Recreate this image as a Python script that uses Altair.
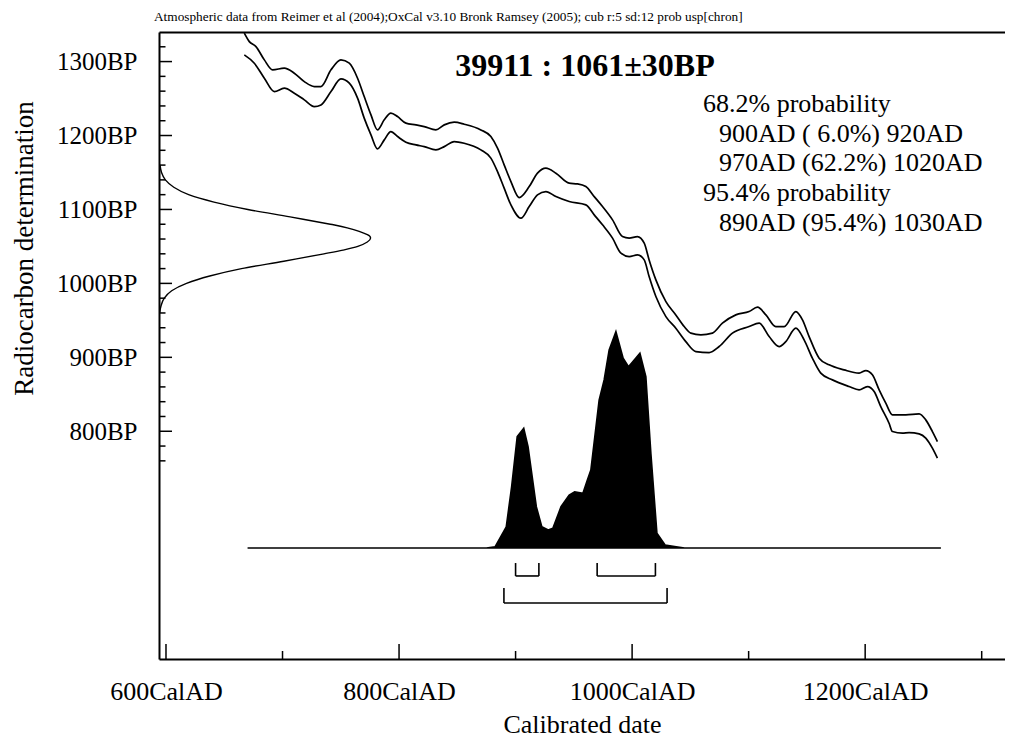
import altair as alt
import pandas as pd

FONT = "Liberation Serif"

# ---- calibration curve (1 sigma envelope) ----
upper_year = [667.2, 671.5, 677.2, 684.4, 691.5, 701.5, 710.1, 718.7, 727.3, 733.0, 741.6, 750.1, 757.3, 764.4,
              770.1, 775.9, 781.5, 787.3, 793.0, 798.7, 805.9, 814.5, 821.6, 831.6, 838.8, 847.3, 855.9, 870.2,
              878.8, 884.5, 890.2, 896.0, 903.1, 911.7, 918.8, 926.0, 934.6, 946.0, 953.1, 960.3, 967.5, 974.6,
              983.2, 991.7, 997.5, 1004.6, 1010.4, 1014.6, 1020.4, 1029.0, 1037.5, 1044.7, 1050.4, 1059.0, 1068.9,
              1077.5, 1089.0, 1100.4, 1107.6, 1114.8, 1123.3, 1130.5, 1140.5, 1146.2, 1151.9, 1160.5, 1169.1,
              1181.9, 1194.8, 1200.6, 1206.2, 1212.0, 1217.7, 1223.4, 1234.9, 1246.3, 1252.0, 1257.7, 1262.0]
upper_bp = [1338.4, 1327.0, 1320.3, 1302.3, 1288.8, 1291.1, 1284.3, 1272.9, 1266.2, 1266.2, 1288.8, 1302.3, 1297.8,
            1277.5, 1252.7, 1227.9, 1207.6, 1221.2, 1230.2, 1225.6, 1216.7, 1214.4, 1212.1, 1207.6, 1214.4, 1218.0,
            1215.3, 1207.6, 1198.6, 1182.9, 1160.3, 1137.7, 1116.1, 1130.9, 1149.1, 1155.8, 1149.1, 1135.5, 1134.6,
            1131.0, 1117.4, 1103.9, 1085.9, 1063.3, 1061.2, 1063.3, 1054.4, 1031.8, 1004.8, 975.4, 957.4, 941.6,
            932.7, 930.4, 932.7, 946.2, 957.4, 961.9, 967.8, 957.4, 941.6, 941.6, 961.9, 950.7, 928.1, 898.9,
            889.8, 883.0, 878.6, 882.1, 876.3, 856.0, 838.0, 822.2, 822.2, 823.5, 815.4, 799.6, 786.1]
lower_year = [667.2, 675.8, 684.4, 693.0, 701.5, 710.1, 718.7, 727.3, 733.0, 741.6, 750.1, 757.3, 764.4, 770.1,
              775.9, 781.5, 787.3, 793.0, 798.7, 805.9, 814.5, 821.6, 831.6, 838.8, 847.3, 855.9, 870.2, 878.8,
              884.5, 890.2, 896.0, 904.6, 911.7, 918.8, 926.0, 934.6, 946.0, 960.3, 967.5, 974.6, 983.2, 990.4,
              997.5, 1004.6, 1010.4, 1014.6, 1020.4, 1029.0, 1037.5, 1046.1, 1054.7, 1066.1, 1074.7, 1086.1,
              1100.4, 1109.0, 1117.6, 1126.2, 1131.9, 1140.5, 1147.6, 1154.7, 1161.9, 1171.9, 1186.2, 1194.8,
              1201.9, 1207.7, 1213.4, 1220.5, 1223.4, 1232.0, 1237.7, 1246.3, 1252.0, 1257.7, 1262.0]
lower_bp = [1309.1, 1297.8, 1277.5, 1259.4, 1264.0, 1257.3, 1248.2, 1239.1, 1241.4, 1259.4, 1276.6, 1270.8, 1250.5,
            1223.5, 1200.9, 1181.9, 1194.1, 1205.3, 1198.6, 1191.0, 1187.3, 1185.0, 1180.6, 1185.0, 1191.8, 1189.6,
            1180.6, 1169.4, 1151.2, 1128.8, 1106.2, 1088.2, 1103.9, 1119.7, 1124.2, 1117.4, 1110.7, 1106.2, 1092.7,
            1079.2, 1061.2, 1040.9, 1036.3, 1038.6, 1031.8, 1009.2, 982.2, 955.1, 939.4, 921.3, 907.8, 906.4,
            914.6, 932.7, 941.6, 946.2, 928.1, 914.6, 921.3, 939.4, 923.6, 898.9, 878.6, 869.5, 860.5, 856.0,
            860.5, 853.7, 833.4, 810.9, 799.6, 797.4, 798.2, 796.5, 790.7, 777.1, 763.6]

# ---- radiocarbon measurement distribution (relative height) ----
gauss_bp = [1160, 1150, 1140, 1130, 1120, 1110, 1100, 1090, 1080, 1075, 1066, 1061, 1056, 1050, 1045, 1040,
            1030, 1020, 1010, 1000, 990, 980, 970, 960]
gauss_h = [0.005, 0.012, 0.03, 0.07, 0.14, 0.26, 0.42, 0.62, 0.81, 0.89, 0.985, 1.0, 0.985, 0.94, 0.87, 0.78,
           0.59, 0.39, 0.24, 0.13, 0.06, 0.025, 0.01, 0.003]

# ---- calibrated date distribution (relative probability) ----
dist_year = [670, 875, 882.5, 892, 896.6, 901.4, 907, 910.7, 917.8, 922.5, 928, 932, 939, 946, 950.7, 957.8,
             961.6, 964.6, 971.7, 976, 980.3, 986.1, 992.3, 996.9, 1001.8, 1006.7, 1011.8, 1016.1, 1021.3,
             1028.3, 1037.8, 1045, 1265]
dist_p = [0, 0, 0.006, 0.098, 0.283, 0.515, 0.553, 0.468, 0.191, 0.098, 0.083, 0.091, 0.191, 0.245, 0.26,
          0.253, 0.314, 0.36, 0.684, 0.777, 0.915, 1.0, 0.877, 0.838, 0.869, 0.9, 0.792, 0.438, 0.068, 0.014,
          0.006, 0, 0]

# ---- ranges ----
range68_start = [900, 970]
range68_end = [920, 1020]
range95_start = [890]
range95_end = [1030]

# ---- ticks / labels ----
x_major = [600, 800, 1000, 1200]
x_minor = [700, 900, 1100, 1300]
y_major = [800, 900, 1000, 1100, 1200, 1300]
y_minor = [760, 780, 820, 840, 860, 880, 920, 940, 960, 980, 1020, 1040, 1060, 1080, 1120, 1140, 1160, 1180,
           1220, 1240, 1260, 1280, 1320]

header_text = ("Atmospheric data from Reimer et al (2004);OxCal v3.10 Bronk Ramsey (2005); "
               "cub r:5 sd:12 prob usp[chron]")
main_title = "39911 : 1061\u00b130BP"
prob_lines = ["68.2% probability", "900AD ( 6.0%) 920AD", "970AD (62.2%) 1020AD",
              "95.4% probability", "890AD (95.4%) 1030AD"]
prob_indent = [0, 1, 1, 0, 1]

# ---- layout constants ----
X_DOM = [594, 1320]
Y_DOM = [492, 1340]
W, H = 846, 627
DIST_BASE = 642.1       # BP level of distribution baseline
DIST_SCALE = 292.6      # BP units for relative probability 1
GAUSS_X0 = 594
GAUSS_SCALE = 181.5     # years for relative height 1

xs = alt.Scale(domain=X_DOM, nice=False, zero=False)
ys = alt.Scale(domain=Y_DOM, nice=False, zero=False)

curve_df = pd.DataFrame({
    "year": upper_year + lower_year,
    "bp": upper_bp + lower_bp,
    "bound": ["upper"] * len(upper_year) + ["lower"] * len(lower_year),
})

curves = alt.Chart(curve_df).mark_line(color="black", strokeWidth=1.7, clip=True, interpolate="monotone").encode(
    x=alt.X("year:Q", scale=xs, axis=alt.Axis(
        values=x_major, labelExpr="datum.value + 'CalAD'", ticks=False, tickSize=0, grid=False,
        domain=True, domainColor="black", domainWidth=2, labelFont=FONT, labelFontSize=26,
        labelColor="black", labelPadding=19, labelFlush=False, labelOverlap=False,
        title="Calibrated date", titleFont=FONT, titleFontSize=26, titleFontWeight="normal",
        titleColor="black", titleY=73, titleBaseline="alphabetic")),
    y=alt.Y("bp:Q", scale=ys, axis=alt.Axis(
        values=y_major, labelExpr="datum.value + 'BP'", ticks=False, tickSize=0, grid=False,
        domain=True, domainColor="black", domainWidth=2, labelFont=FONT, labelFontSize=25,
        labelColor="black", labelPadding=22, labelOverlap=False, labelFlush=False,
        title="Radiocarbon determination", titleFont=FONT, titleFontSize=27, titleFontWeight="normal",
        titleColor="black", titleX=-127, titleY=216, titleBaseline="alphabetic")),
    detail="bound:N",
)

dist_df = pd.DataFrame({"year": dist_year, "p": dist_p})
dist = alt.Chart(dist_df).transform_calculate(
    top=f"{DIST_BASE} + datum.p * {DIST_SCALE}", base=f"{DIST_BASE}"
).mark_area(color="black", stroke="black", strokeWidth=1.6, opacity=1).encode(
    x=alt.X("year:Q", scale=xs, axis=alt.Axis(orient="top", labels=False, ticks=False, domain=True,
                                            domainColor="black", domainWidth=2, grid=False, title=None)),
    y=alt.Y("top:Q", scale=ys, axis=None),
    y2="base:Q",
)

gauss_df = pd.DataFrame({"bp": gauss_bp, "h": gauss_h})
gauss = alt.Chart(gauss_df).transform_calculate(
    gx=f"{GAUSS_X0} + datum.h * {GAUSS_SCALE}"
).mark_line(color="black", strokeWidth=1.4, interpolate="cardinal").encode(
    x=alt.X("gx:Q", scale=xs, axis=None),
    y=alt.Y("bp:Q", scale=ys, axis=None),
    order=alt.Order("bp:Q"),
)

# brackets
br_df = pd.DataFrame({
    "start": range68_start + range95_start,
    "end": range68_end + range95_end,
    "level": ["68"] * len(range68_start) + ["95"] * len(range95_start),
})
br_df["ylo"] = br_df["level"].map({"68": 604.3, "95": 567.7})
br_df["yhi"] = br_df["level"].map({"68": 621.8, "95": 588.0})

br_h = alt.Chart(br_df).mark_rule(color="black", strokeWidth=1.6).encode(
    x=alt.X("start:Q", scale=xs, axis=None), x2="end:Q",
    y=alt.Y("ylo:Q", scale=ys, axis=None),
)
br_v = alt.Chart(br_df).transform_fold(["start", "end"], as_=["edge", "pos"]).mark_rule(
    color="black", strokeWidth=1.6).encode(
    x=alt.X("pos:Q", scale=xs, axis=None),
    y=alt.Y("ylo:Q", scale=ys, axis=None), y2="yhi:Q",
)

# inward ticks
def xticks(vals, length):
    return alt.Chart(pd.DataFrame({"v": vals})).mark_rule(color="black", strokeWidth=1.5).encode(
        x=alt.X("v:Q", scale=xs, axis=None), y=alt.value(H), y2=alt.value(H - length))

def yticks(vals, length):
    return alt.Chart(pd.DataFrame({"v": vals})).mark_rule(color="black", strokeWidth=1.5).encode(
        y=alt.Y("v:Q", scale=ys, axis=None), x=alt.value(0), x2=alt.value(length))

# texts
header = alt.Chart(pd.DataFrame({"t": [header_text]})).mark_text(
    font=FONT, fontSize=13.3, align="left", baseline="alphabetic", color="black").encode(
    x=alt.value(-5), y=alt.value(-11), text="t:N")

title = alt.Chart(pd.DataFrame({"t": [main_title]})).mark_text(
    font=FONT, fontSize=32, fontWeight="bold", align="center", baseline="alphabetic", color="black").encode(
    x=alt.value(426), y=alt.value(44), text="t:N")

prob_df = pd.DataFrame({"t": prob_lines, "indent": prob_indent, "i": list(range(len(prob_lines)))})
prob = alt.Chart(prob_df).transform_calculate(
    px="datum.indent ? 560 : 544", py="80 + datum.i * 29.7"
).mark_text(font=FONT, fontSize=26, align="left", baseline="alphabetic", color="black").encode(
    x=alt.X("px:Q", scale=None, axis=None), y=alt.Y("py:Q", scale=None, axis=None), text="t:N")

chart = alt.layer(
    curves, dist, gauss, br_h, br_v,
    xticks(x_major, 15), xticks(x_minor, 8), yticks(y_major, 13), yticks(y_minor, 6.5),
    header, title, prob,
).resolve_axis(x="independent", y="independent").properties(
    width=W, height=H,
    autosize=alt.AutoSizeParams(type="none"),
    padding={"left": 151, "top": 24, "right": 0, "bottom": 79},
    background="white",
).configure_view(stroke=None)

chart.save("out.html", embed_options={"renderer": "svg", "actions": False})
